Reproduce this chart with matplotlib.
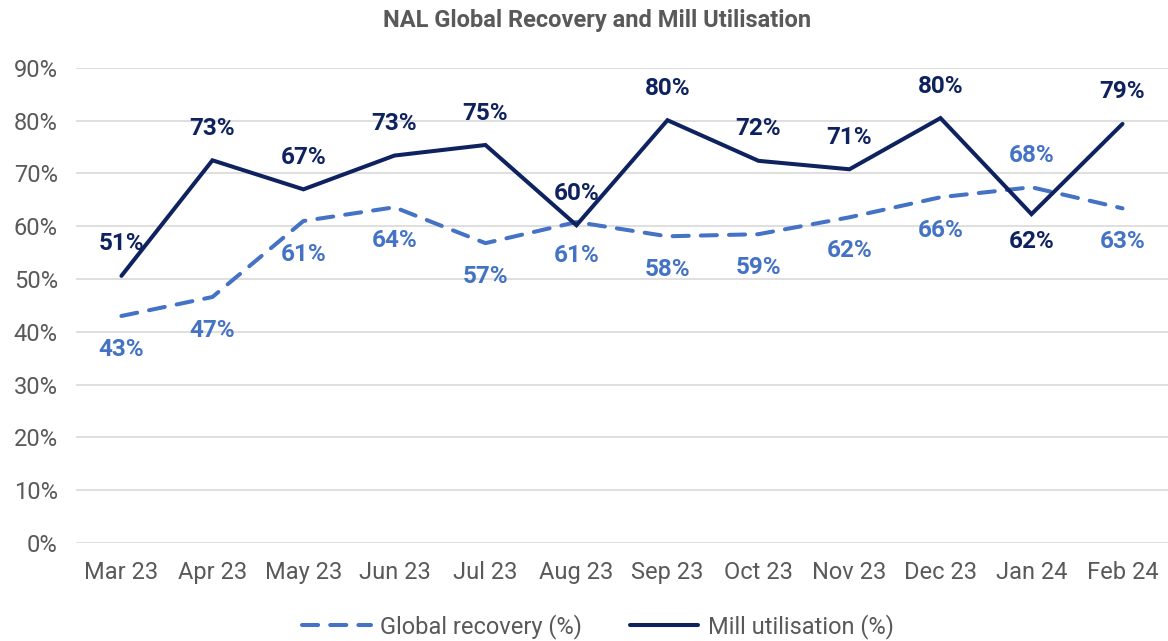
import matplotlib.pyplot as plt

months = ["Mar 23", "Apr 23", "May 23", "Jun 23", "Jul 23", "Aug 23",
          "Sep 23", "Oct 23", "Nov 23", "Dec 23", "Jan 24", "Feb 24"]
recovery = [43.0, 46.6, 61.0, 63.6, 56.8, 60.8, 58.1, 58.5, 61.7, 65.5, 67.4, 63.4]
mill = [50.6, 72.5, 67.0, 73.4, 75.4, 60.2, 80.1, 72.4, 70.8, 80.5, 62.3, 79.4]
recovery_labels = ["43%", "47%", "61%", "64%", "57%", "61%", "58%", "59%", "62%", "66%", "68%", "63%"]
mill_labels = ["51%", "73%", "67%", "73%", "75%", "60%", "80%", "72%", "71%", "80%", "62%", "79%"]

plt.rcParams['font.family'] = ['Roboto', 'DejaVu Sans']

light_blue = "#4472c4"
navy = "#0e2260"
grey = "#595959"

fig = plt.figure(figsize=(11.68, 6.41), dpi=100)
ax = fig.add_axes([0.065, 0.153, 0.935, 0.741])

x = list(range(len(months)))
ax.plot(x, recovery, color=light_blue, lw=2.9, ls=(0, (4, 3)),
        dash_capstyle='round', label="Global recovery (%)", zorder=3)
ax.plot(x, mill, color=navy, lw=2.9, label="Mill utilisation (%)",
        solid_capstyle='round', solid_joinstyle='miter', zorder=4)

for i in x:
    off = -20 if months[i] == "Jan 24" else 23
    ax.annotate(mill_labels[i], (i, mill[i]), xytext=(0, off), textcoords='offset points',
                ha='center', va='center', fontsize=17.5, fontweight='bold', color=navy)
    off = 23 if months[i] == "Jan 24" else -24
    ax.annotate(recovery_labels[i], (i, recovery[i]), xytext=(0, off), textcoords='offset points',
                ha='center', va='center', fontsize=17.5, fontweight='bold', color=light_blue)

ax.set_xlim(-0.5, len(months) - 0.5)
ax.set_ylim(0, 90)
ax.set_yticks(range(0, 91, 10))
ax.set_yticklabels([f"{v}%" for v in range(0, 91, 10)])
ax.set_xticks(x)
ax.set_xticklabels(months)
ax.tick_params(axis='both', length=0, labelsize=17, labelcolor=grey)
ax.tick_params(axis='x', pad=13)
ax.tick_params(axis='y', pad=13)
ax.grid(axis='y', color="#d9d9d9", lw=1.2)
ax.set_axisbelow(True)
for s in ax.spines.values():
    s.set_visible(False)

fig.text(0.511, 0.968, "NAL Global Recovery and Mill Utilisation", ha='center', va='center',
         fontsize=17, fontweight='bold', color=grey)
fig.legend(loc='center', bbox_to_anchor=(0.512, 0.023), ncol=2, frameon=False,
           fontsize=17, labelcolor=grey, handlelength=2.9, columnspacing=2.0,
           handletextpad=0.4)

fig.savefig("out.png", dpi=100)
